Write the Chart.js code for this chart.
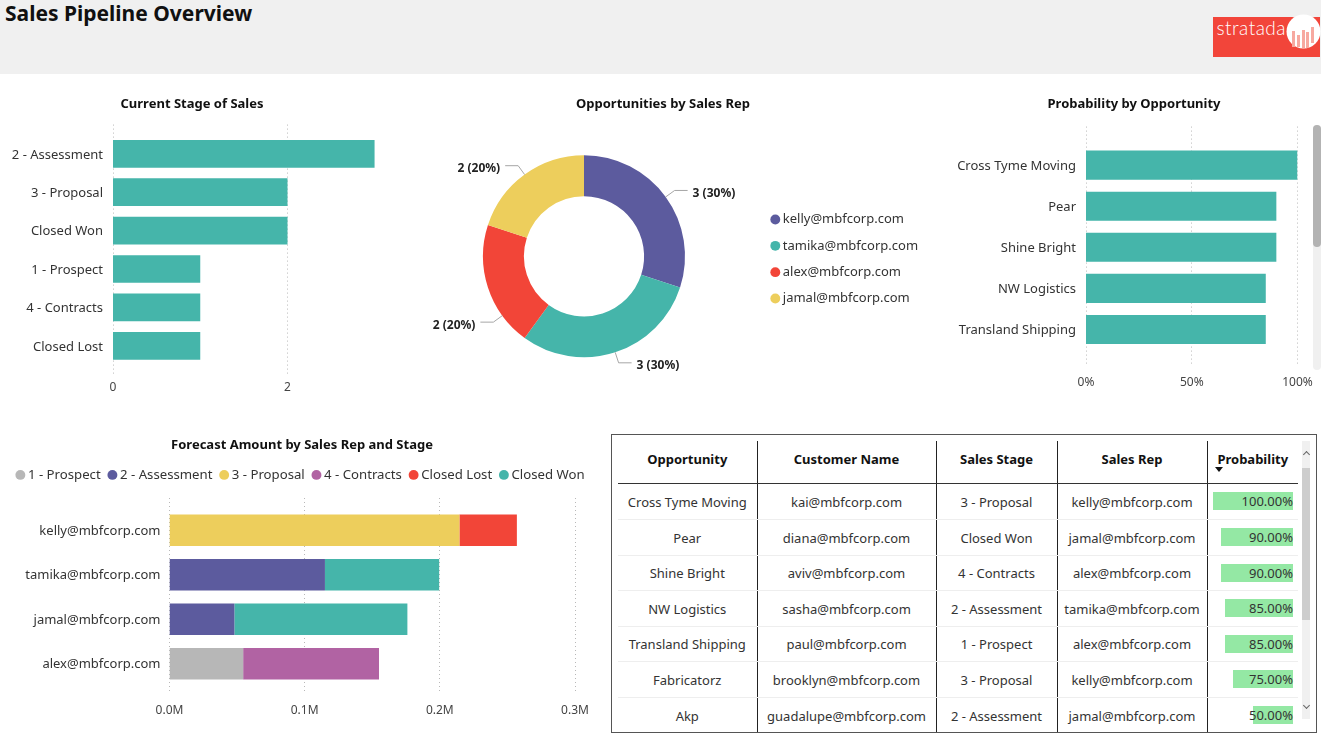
<!DOCTYPE html>
<html><head><meta charset="utf-8">
<script src="https://cdn.jsdelivr.net/npm/chart.js@4"></script>
<style>
html,body{margin:0;padding:0;background:#fff;width:1321px;height:739px;overflow:hidden;font-family:"Noto Sans",sans-serif;color:#252423}
canvas{position:absolute;display:block}
#hdr{position:absolute;left:0;top:0;width:1321px;height:74px;background:#f0f0f0}
#ttl{position:absolute;left:5px;top:-2px;font-size:21px;font-weight:700;color:#111;line-height:30px}
#logo{position:absolute;left:1213px;top:14px}
#box{position:absolute;left:611px;top:434px;width:704px;height:297px;border:1px solid #555;overflow:hidden;background:#fff}
table{position:absolute;left:6px;top:6px;border-collapse:collapse;table-layout:fixed;width:680px;font-size:13px}
th{height:36px;padding:0 0 6px 0;font-weight:700;color:#111;border-bottom:1px solid #333;border-right:1px solid #222;position:relative}
td{height:35px;padding:0;text-align:center;border-bottom:1px solid #eee;border-right:1px solid #222;color:#333;white-space:nowrap;position:relative}
tbody tr:nth-child(3) td,tbody tr:nth-child(5) td{height:34px}
th:last-child,td:last-child{border-right:none}
.bar{position:absolute;right:5px;top:8px;height:18px;background:#94e8a4}
.pv{position:absolute;right:5px;top:8px;line-height:18px}
#arrow{position:absolute;left:7px;bottom:11px;width:0;height:0;border-left:4.5px solid transparent;border-right:4.5px solid transparent;border-top:5px solid #111}
#track{position:absolute;left:690px;top:6px;width:8px;height:278px;background:#f0f0f0}
#thumb{position:absolute;left:0;top:27px;width:8px;height:152px;background:#cdcdcd}
.sa{position:absolute;left:2px;width:4px;height:4px;border-left:1px solid #666;border-top:1px solid #666}
#s3{position:absolute;left:1313px;top:125px;width:8px;height:245px;background:#f0f0f0;border-radius:4px}
#s3t{position:absolute;left:0;top:0;width:8px;height:122px;background:#b3b3b3;border-radius:4px}
</style></head><body>
<div id="hdr"><div id="ttl">Sales Pipeline Overview</div></div>
<svg id="logo" width="108" height="44" viewBox="0 0 108 44">
<rect x="0" y="3" width="107" height="40" fill="#f2453a"/>
<text x="3.5" y="21" font-family="Lato" font-weight="300" font-size="19" textLength="69" fill="#fff">stratada</text>
<circle cx="90.5" cy="17.5" r="17" fill="#fff"/>
<g fill="#f7a9a0"><rect x="79" y="17" width="3" height="16"/><rect x="84" y="21" width="3" height="12"/><rect x="89" y="16" width="3" height="18"/><rect x="93" y="18" width="3" height="16"/><rect x="98" y="13" width="3" height="16"/></g>
</svg>
<canvas id="c1" width="384" height="310" style="left:0;top:90px"></canvas>
<canvas id="c2" width="512" height="310" style="left:407px;top:90px"></canvas>
<canvas id="c3" width="368" height="310" style="left:950px;top:90px"></canvas>
<div id="s3"><div id="s3t"></div></div>
<canvas id="c4" width="604" height="305" style="left:0;top:432px"></canvas>
<div id="box">
<table id="tb"><colgroup><col style="width:139px"><col style="width:179px"><col style="width:121px"><col style="width:150px"><col style="width:91px"></colgroup><thead><tr id="th"></tr></thead><tbody id="tbd"></tbody></table>
<div id="track"><div class="sa" style="top:11px;transform:rotate(45deg)"></div><div id="thumb"></div><div class="sa" style="top:262px;transform:rotate(225deg)"></div></div>
</div>
<script>
// ---- data ----
const stageLabels = ["2 - Assessment","3 - Proposal","Closed Won","1 - Prospect","4 - Contracts","Closed Lost"];
const stageCounts = [3,2,2,1,1,1];
const stageTicks = [0,2];

const repLabels = ["kelly@mbfcorp.com","tamika@mbfcorp.com","alex@mbfcorp.com","jamal@mbfcorp.com"];
const repCounts = [3,3,2,2];

const probLabels = ["Cross Tyme Moving","Pear","Shine Bright","NW Logistics","Transland Shipping"];
const probValues = [100,90,90,85,85];
const probTicks = [0,50,100];

const forecastReps = ["kelly@mbfcorp.com","tamika@mbfcorp.com","jamal@mbfcorp.com","alex@mbfcorp.com"];
const fcProspect   = [0,0,0,0.0545];
const fcAssessment = [0,0.115,0.048,0];
const fcProposal   = [0.2145,0,0,0];
const fcContracts  = [0,0,0,0.1005];
const fcLost       = [0.0425,0,0,0];
const fcWon        = [0,0.0845,0.128,0];
const fcTicks = [0,0.1,0.2,0.3];

const tableHead = ["Opportunity","Customer Name","Sales Stage","Sales Rep","Probability"];
const tOpportunity = ["Cross Tyme Moving","Pear","Shine Bright","NW Logistics","Transland Shipping","Fabricatorz","Akp"];
const tCustomer = ["kai@mbfcorp.com","diana@mbfcorp.com","aviv@mbfcorp.com","sasha@mbfcorp.com","paul@mbfcorp.com","brooklyn@mbfcorp.com","guadalupe@mbfcorp.com"];
const tStage = ["3 - Proposal","Closed Won","4 - Contracts","2 - Assessment","1 - Prospect","3 - Proposal","2 - Assessment"];
const tRep = ["kelly@mbfcorp.com","jamal@mbfcorp.com","alex@mbfcorp.com","tamika@mbfcorp.com","alex@mbfcorp.com","kelly@mbfcorp.com","jamal@mbfcorp.com"];
const tProb = [100,90,90,85,85,75,50];

// ---- style ----
const FONT = '"Noto Sans", sans-serif';
const TEAL='#45b5aa', PURPLE='#5c5b9e', RED='#f24538', YELLOW='#edce5c', GREY='#b7b7b7', MAUVE='#b163a3';
const TICK='#444444';
Chart.defaults.font.family = FONT;
Chart.defaults.color = '#252423';
Chart.defaults.animation = false;
Chart.defaults.responsive = false;
Chart.defaults.devicePixelRatio = 1;

const dottedGrid = {
  id:'dottedGrid',
  beforeDatasetsDraw(chart,args,o){
    const x=chart.scales.x, a=chart.chartArea, c=chart.ctx;
    c.save(); c.strokeStyle='#b8b8b8'; c.lineWidth=1; c.setLineDash([1,3]);
    x.ticks.forEach(t=>{const p=Math.floor(x.getPixelForValue(t.value))+.5;
      c.beginPath(); c.moveTo(p,a.top-o.up); c.lineTo(p,a.bottom+o.down); c.stroke();});
    c.restore();
  }
};
// header blocks (title, horizontal legend) span the whole canvas rather than the inset plot width
const headerSpan={id:'headerSpan',
  beforeLayout(chart){const l=chart.legend,o=chart.options.plugins.headerSpan;if(l&&!l._g){l._g=1;const f=l.fit;l.fit=function(){if(o.extra)this.maxWidth+=o.extra;f.call(this);if(o.gap)this.height+=o.gap;if(o.width)this.width=o.width;};}},
  afterLayout(chart){const o=chart.options.plugins.headerSpan,t=chart.titleBlock,l=chart.legend;
    if(t){t.left=0;t.right=chart.width;}
    if(l&&o.extra){l.left=0;l.right=chart.width;}
    if(l&&o.dy){l.top+=o.dy;l.bottom+=o.dy;}}
};
const titleOpt=(text,bottom,top=0)=>({display:true,text,color:'#111',font:{size:13,weight:'700',lineHeight:1.2},padding:{top,bottom}});

function hbar(id,labels,values,ticks,fmt,yw,padR,max,catPct,titleText,tb,xh,tl,up,down){
  return new Chart(document.getElementById(id),{
    type:'bar',
    data:{labels,datasets:[{data:values,backgroundColor:TEAL,categoryPercentage:catPct,barPercentage:1}]},
    plugins:[dottedGrid,headerSpan],
    options:{indexAxis:'y',layout:{padding:{left:0,right:padR,top:0,bottom:0}},
      plugins:{legend:{display:false},tooltip:{enabled:false},title:titleOpt(titleText,tb,6),dottedGrid:{up,down},headerSpan:{}},
      scales:{
        x:{min:0,max,grid:{display:false,tickLength:tl},border:{display:false},
           afterBuildTicks:s=>{s.ticks=ticks.map(v=>({value:v}));},
           afterFit:s=>{s.height=xh;},
           ticks:{autoSkip:false,maxRotation:0,font:{size:12},color:TICK,padding:5,callback:fmt}},
        y:{grid:{display:false},border:{display:false},afterFit:s=>{s.width=yw;},
           ticks:{font:{size:13},color:'#333',padding:2,labelOffset:1,autoSkip:false}}
      }}
  });
}
hbar('c1',stageLabels,stageCounts,stageTicks,v=>String(v),113,9.25,3,0.722,'Current Stage of Sales',23,35,10,10,10);
hbar('c3',probLabels,probValues,probTicks,v=>v+'%',136,20.5,100,0.707,'Probability by Opportunity',33,50,20,18,15);

// doughnut with leader-line labels
const leaderLabels={
  id:'leaderLabels',
  afterDatasetsDraw(chart,args,o){
    const c=chart.ctx, arcs=chart.getDatasetMeta(0).data, vals=chart.data.datasets[0].data;
    const tot=vals.reduce((a,b)=>a+b,0);
    c.save(); c.font='700 12px '+FONT; c.textBaseline='middle';
    arcs.forEach((arc,i)=>{
      const p=arc.getProps(['x','y','startAngle','endAngle','outerRadius']);
      const m=(p.startAngle+p.endAngle)/2+(o.shift[i]||0)*Math.PI/180;
      const cos=Math.cos(m),sin=Math.sin(m),dir=cos>=0?1:-1;
      const x0=p.x+cos*p.outerRadius,y0=p.y+sin*p.outerRadius;
      const x1=p.x+cos*(p.outerRadius+11),y1=p.y+sin*(p.outerRadius+11);
      const x2=x1+dir*13;
      c.strokeStyle='#a6a6a6';c.lineWidth=1;c.setLineDash([]);
      c.beginPath();c.moveTo(x0,y0);c.lineTo(x1,y1);c.lineTo(x2,y1);c.stroke();
      c.fillStyle='#222';c.textAlign=dir>0?'left':'right';
      c.fillText(vals[i]+' ('+Math.round(vals[i]/tot*100)+'%)',x2+dir*5,y1+3);
    });
    c.restore();
  }
};
new Chart(document.getElementById('c2'),{
  type:'doughnut',
  data:{labels:repLabels,datasets:[{data:repCounts,backgroundColor:[PURPLE,TEAL,RED,YELLOW],borderWidth:0}]},
  plugins:[headerSpan,leaderLabels],
  options:{radius:101,cutout:'59.5%',
    plugins:{tooltip:{enabled:false},title:titleOpt('Opportunities by Sales Rep',1,6),leaderLabels:{shift:[0,0,-18,0]},headerSpan:{width:158,dy:14},
      legend:{position:'right',labels:{usePointStyle:true,boxWidth:2,boxHeight:7,padding:13.3,font:{size:13},color:'#333'}}}}
});

// stacked bars
const fcSets=[["1 - Prospect",fcProspect,GREY],["2 - Assessment",fcAssessment,PURPLE],["3 - Proposal",fcProposal,YELLOW],["4 - Contracts",fcContracts,MAUVE],["Closed Lost",fcLost,RED],["Closed Won",fcWon,TEAL]];
new Chart(document.getElementById('c4'),{
  type:'bar',
  data:{labels:forecastReps,datasets:fcSets.map(s=>({label:s[0],data:s[1],backgroundColor:s[2],categoryPercentage:0.71,barPercentage:1}))},
  plugins:[dottedGrid,headerSpan],
  options:{indexAxis:'y',layout:{padding:{left:0,right:29}},
    plugins:{tooltip:{enabled:false},title:titleOpt('Forecast Amount by Sales Rep and Stage',5,5),dottedGrid:{up:10,down:5},headerSpan:{gap:16.5,extra:100},
      legend:{position:'top',labels:{usePointStyle:true,boxWidth:2,boxHeight:7,padding:10.7,font:{size:13.2},color:'#333'}}},
    scales:{
      x:{stacked:true,min:0,max:0.3,grid:{display:false,tickLength:12},border:{display:false},
        afterBuildTicks:s=>{s.ticks=fcTicks.map(v=>({value:v}));},afterFit:s=>{s.height=51;},
        ticks:{autoSkip:false,maxRotation:0,font:{size:12},color:TICK,padding:5,callback:v=>v.toFixed(1)+'M'}},
      y:{stacked:true,grid:{display:false},border:{display:false},afterFit:s=>{s.width=169.5;},ticks:{font:{size:13},color:'#333',padding:1,labelOffset:1}}
    }}
});

// table
document.getElementById('th').innerHTML=tableHead.map((h,i)=>'<th>'+h+(i==4?'<div id="arrow"></div>':'')+'</th>').join('');
document.getElementById('tbd').innerHTML=tOpportunity.map((o,i)=>'<tr><td>'+o+'</td><td>'+tCustomer[i]+'</td><td>'+tStage[i]+'</td><td>'+tRep[i]+'</td><td><div class="bar" style="width:'+(tProb[i]*0.8)+'px"></div><div class="pv">'+tProb[i].toFixed(2)+'%</div></td></tr>').join('');
</script>
</body></html>
